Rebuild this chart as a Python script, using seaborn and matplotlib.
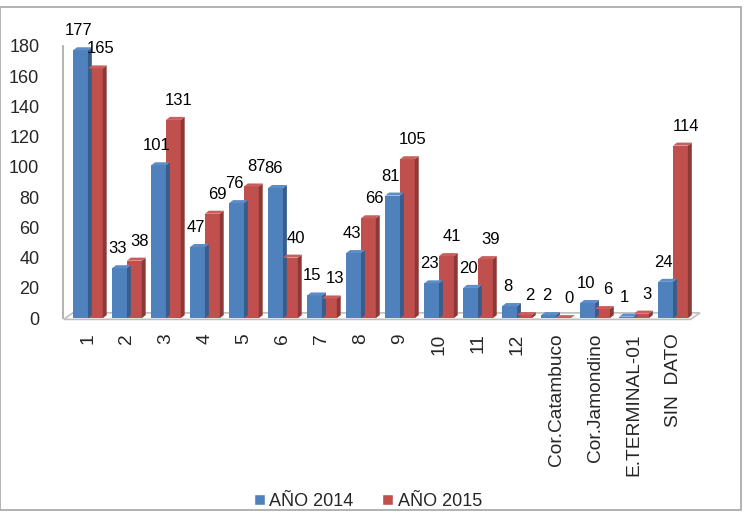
import matplotlib
matplotlib.use("Agg")
import matplotlib.pyplot as plt
import seaborn as sns
import pandas as pd
from matplotlib.patches import Polygon, Rectangle

categories = ["1", "2", "3", "4", "5", "6", "7", "8", "9", "10", "11", "12",
              "Cor.Catambuco", "Cor.Jamondino", "E.TERMINAL-01", "SIN  DATO"]
values_2014 = [177, 33, 101, 47, 76, 86, 15, 43, 81, 23, 20, 8, 2, 10, 1, 24]
values_2015 = [165, 38, 131, 69, 87, 40, 13, 66, 105, 41, 39, 2, 0, 6, 3, 114]
series = ["AÑO 2014", "AÑO 2015"]
yticks = [0, 20, 40, 60, 80, 100, 120, 140, 160, 180]

df = pd.DataFrame({
    "cat": categories * 2,
    "val": values_2014 + values_2015,
    "serie": [series[0]] * len(categories) + [series[1]] * len(categories),
})

sns.set_style("white")
plt.rcParams["font.family"] = ["Liberation Sans", "DejaVu Sans"]

fig = plt.figure(figsize=(7.48, 5.14), dpi=100)
ax = fig.add_axes([0.0842, 0.381, 0.8516, 0.53])

colors = ["#4F81BD", "#C0504D"]
side_colors = ["#385D8A", "#8C3836"]
top_colors = ["#5D8CC6", "#C95F5C"]

sns.barplot(data=df, x="cat", y="val", hue="serie", palette=colors,
            width=0.76, ax=ax, legend=False, saturation=1, linewidth=0)

ax.set_ylim(0, 180)
xl, xr = -0.64, 15.69
ax.set_xlim(xl, xr)
dx = 0.1
dy = 2.0

# floor
floor = Polygon([(xl + 0.02, -0.8), (15.45, -0.8), (15.69, 3.5), (xl + 0.25, 3.5)],
                closed=True, facecolor="white", edgecolor="#BFBFBF", linewidth=1.2,
                zorder=1, clip_on=False)
ax.add_patch(floor)

for i, container in enumerate(ax.containers):
    for bar in container:
        x0 = bar.get_x(); w = bar.get_width(); h = bar.get_height()
        side = Polygon([(x0 + w, 0), (x0 + w + dx, dy), (x0 + w + dx, h + dy), (x0 + w, h)],
                       closed=True, facecolor=side_colors[i], edgecolor="none", zorder=3)
        top = Polygon([(x0, h), (x0 + dx, h + dy), (x0 + w + dx, h + dy), (x0 + w, h)],
                      closed=True, facecolor=top_colors[i], edgecolor="none", zorder=3)
        ax.add_patch(side); ax.add_patch(top)
        bar.set_zorder(3)
        xoff = -1.5 if i == 0 else 4
        ax.annotate(str(int(h)), (x0 + w / 2, h + dy), xytext=(xoff, 6.5),
                    textcoords="offset points", ha="center", va="bottom",
                    fontsize=12, color="black", zorder=5)

ax.set_yticks(yticks)
ax.tick_params(axis="y", labelsize=13, length=0, pad=17)
ax.set_xticks(range(len(categories)))
ax.set_xticklabels(categories, rotation=90, fontsize=13.8)
ax.tick_params(axis="x", length=0, pad=11)
ax.set_xlabel(""); ax.set_ylabel("")
for s in ["top", "right", "bottom"]:
    ax.spines[s].set_visible(False)
ax.spines["left"].set_color("#A6A6A6")
ax.spines["left"].set_linewidth(1.2)

handles = [Rectangle((0, 0), 1, 1, facecolor=c) for c in colors]
fig.legend(handles, series, loc="center", bbox_to_anchor=(0.492, 0.025), ncol=2,
           frameon=False, fontsize=13, handlelength=0.6, handleheight=0.6,
           handletextpad=0.25, columnspacing=1.6)

fig.patches.append(Rectangle((0.0, 0.008), 0.99, 0.978, transform=fig.transFigure,
                             fill=False, edgecolor="#A6A6A6", linewidth=1.2))

fig.savefig("out.png", dpi=100)
